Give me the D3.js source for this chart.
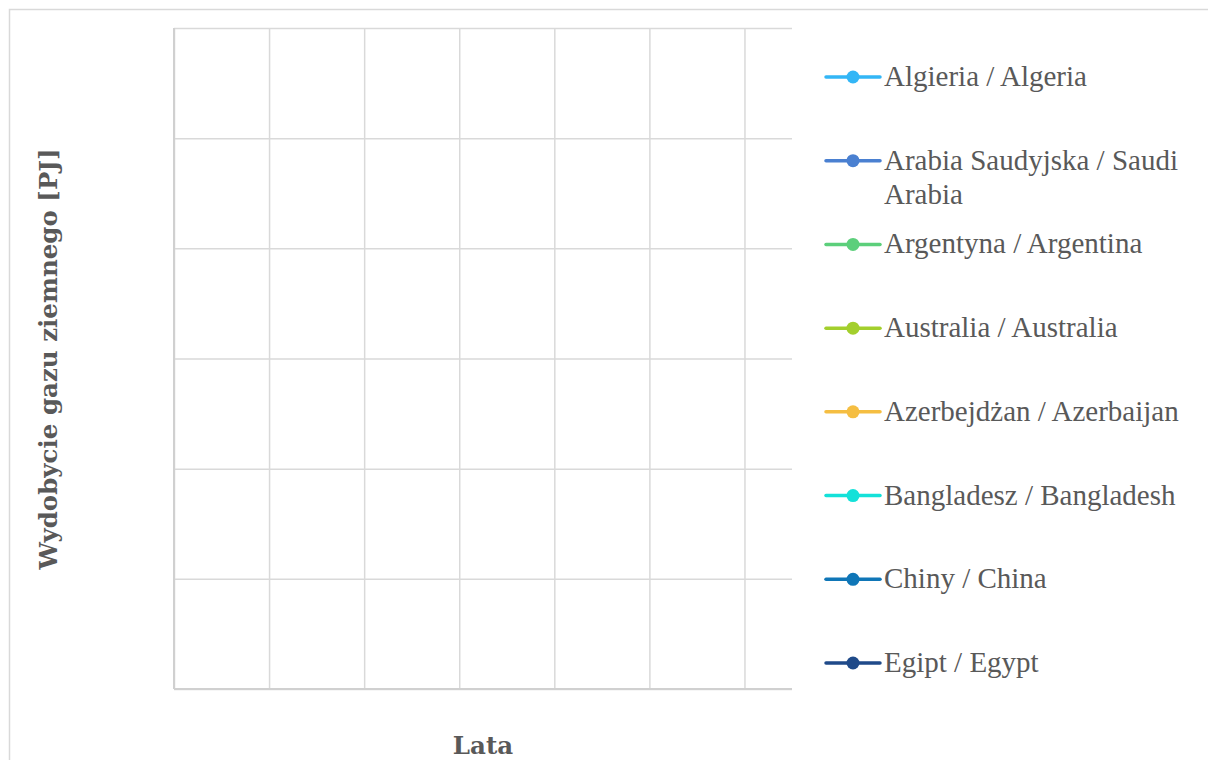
<!DOCTYPE html>
<html>
<head>
<meta charset="utf-8">
<script src="https://cdn.jsdelivr.net/npm/d3@7"></script>
<style>
  body { margin: 0; background: #fff; }
  svg { display: block; }
</style>
</head>
<body>
<svg id="chart"></svg>
<script>
// series names (legend) and their colours
const seriesNames = [
    "Algieria / Algeria",
    "Arabia Saudyjska / Saudi Arabia",
    "Argentyna / Argentina",
    "Australia / Australia",
    "Azerbejdżan / Azerbaijan",
    "Bangladesz / Bangladesh",
    "Chiny / China",
    "Egipt / Egypt"
];
const seriesColors = ["#33b6f6", "#4a80d1", "#5ccf7b", "#a3cf2d", "#f5be42", "#14e1d9", "#0f76b7", "#1f4a89"];

// the chart has no data plotted: every series is empty
const years = [];
const seriesValues = [[], [], [], [], [], [], [], []];

// gridline positions (categories / value steps, no labels shown)
const xTicks = [0, 1, 2, 3, 4, 5, 6];
const xMax = 6.5;
const yTicks = [0, 1, 2, 3, 4, 5, 6];

const width = 1208;
const height = 760;
const margin = ({ top: 28, right: 416, bottom: 71, left: 174 });
const fontFamily = "'Liberation Serif', 'DejaVu Serif', serif";
const titleFont = "'DejaVu Serif', serif";
const textColor = "#595959";
const gridColor = "#d9d9d9";

const svg = d3.select("#chart")
    .attr("width", width)
    .attr("height", height);

// outer chart frame
svg.append("rect")
    .attr("x", 9.5)
    .attr("y", 9.5)
    .attr("width", width)
    .attr("height", height)
    .attr("fill", "none")
    .attr("stroke", gridColor)
    .attr("stroke-width", 1.5);

const xScale = d3.scaleLinear()
    .domain([0, xMax])
    .range([margin.left, width - margin.right]);

const yScale = d3.scaleLinear()
    .domain([0, d3.max(yTicks)])
    .range([height - margin.bottom, margin.top]);

// vertical gridlines
svg.append("g")
    .attr("transform", `translate(0,${height - margin.bottom})`)
    .call(d3.axisBottom(xScale).tickValues(xTicks).tickSize(-(height - margin.top - margin.bottom)).tickFormat(""))
    .call(g => g.select(".domain").remove())
    .call(g => g.selectAll(".tick line").attr("stroke", gridColor).attr("stroke-width", 1.5));

// horizontal gridlines
svg.append("g")
    .attr("transform", `translate(${margin.left},0)`)
    .call(d3.axisLeft(yScale).tickValues(yTicks).tickSize(-(width - margin.left - margin.right)).tickFormat(""))
    .call(g => g.select(".domain").remove())
    .call(g => g.selectAll(".tick line").attr("stroke", gridColor).attr("stroke-width", 1.5));

// axis lines
svg.append("line")
    .attr("x1", margin.left).attr("x2", width - margin.right)
    .attr("y1", yScale(0)).attr("y2", yScale(0))
    .attr("stroke", "#d0d0d0").attr("stroke-width", 2);
svg.append("line")
    .attr("x1", xScale(0)).attr("x2", xScale(0))
    .attr("y1", margin.top).attr("y2", yScale(0))
    .attr("stroke", "#d0d0d0").attr("stroke-width", 2);

// series lines (empty in this chart)
const line = d3.line()
    .x((d, i) => xScale(i))
    .y(d => yScale(d));

svg.append("g")
    .selectAll("path")
    .data(seriesValues)
    .join("path")
    .attr("fill", "none")
    .attr("stroke", (d, i) => seriesColors[i])
    .attr("stroke-width", 3)
    .attr("d", d => d.length ? line(d) : null);

// axis titles
svg.append("text")
    .attr("x", (margin.left + width - margin.right) / 2)
    .attr("y", 754)
    .attr("text-anchor", "middle")
    .attr("font-family", titleFont)
    .attr("font-weight", "bold")
    .attr("font-size", 24.5)
    .attr("fill", textColor)
    .text("Lata");

svg.append("text")
    .attr("transform", `translate(57,359) rotate(-90)`)
    .attr("text-anchor", "middle")
    .attr("font-family", titleFont)
    .attr("font-weight", "bold")
    .attr("font-size", 24.5)
    .attr("fill", textColor)
    .text("Wydobycie gazu ziemnego [PJ]");

// legend
const legendY = d3.scaleLinear()
    .domain([0, seriesNames.length - 1])
    .range([77, 663]);

const legend = svg.append("g")
    .selectAll("g")
    .data(seriesNames)
    .join("g")
    .attr("transform", (d, i) => `translate(826,${legendY(i)})`);

legend.append("line")
    .attr("x1", 0).attr("x2", 54)
    .attr("stroke", (d, i) => seriesColors[i])
    .attr("stroke-width", 3.5)
    .attr("stroke-linecap", "round");

legend.append("circle")
    .attr("cx", 27)
    .attr("r", 6.5)
    .attr("fill", (d, i) => seriesColors[i]);

const legendText = legend.append("text")
    .attr("x", 58)
    .attr("y", 9)
    .attr("font-family", fontFamily)
    .attr("font-size", 29)
    .attr("fill", textColor);

// wrap long legend labels like the original
legendText.each(function (d) {
    const t = d3.select(this);
    const words = d.split(" ");
    let lineWords = [];
    let tspan = t.append("tspan").attr("x", 58);
    words.forEach(w => {
        lineWords.push(w);
        tspan.text(lineWords.join(" "));
        if (tspan.node().getComputedTextLength() > 318 && lineWords.length > 1) {
            lineWords.pop();
            tspan.text(lineWords.join(" "));
            lineWords = [w];
            tspan = t.append("tspan").attr("x", 58).attr("dy", 34).text(w);
        }
    });
});
</script>
</body>
</html>
